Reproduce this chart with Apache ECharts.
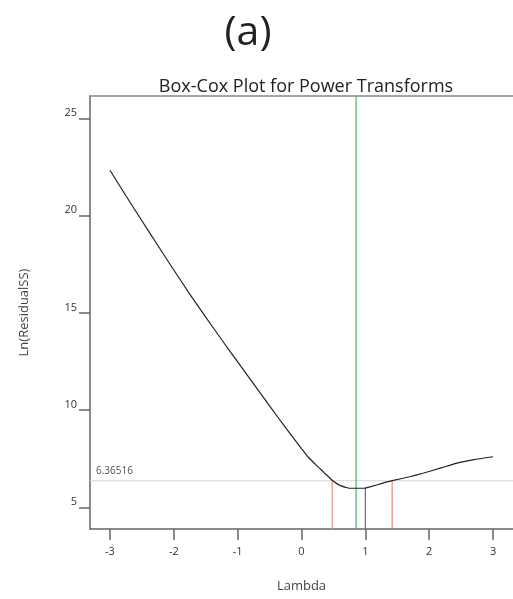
<!DOCTYPE html>
<html><head><meta charset="utf-8">
<script src="https://cdn.jsdelivr.net/npm/echarts@6/dist/echarts.min.js"></script>
<style>html,body{margin:0;padding:0;background:#fff}#c{width:513px;height:599px}</style>
</head><body><div id="c"></div>
<script>
// Data
const lambdaVals = [-3, -2.75, -2.5, -2.25, -2, -1.75, -1.5, -1.25, -1, -0.75, -0.5, -0.25, 0, 0.1, 0.23, 0.35, 0.48, 0.6, 0.7, 0.75, 0.98, 1.1, 1.25, 1.42, 1.69, 1.9, 2.2, 2.42, 2.7, 3.0];
const lnResidualSS = [22.34, 21.03, 19.74, 18.47, 17.21, 15.97, 14.78, 13.62, 12.48, 11.35, 10.22, 9.1, 8.02, 7.6, 7.17, 6.8, 6.39, 6.13, 6.02, 5.98, 5.98, 6.08, 6.22, 6.37, 6.57, 6.75, 7.04, 7.26, 7.45, 7.6];
const xTicks = [-3, -2, -1, 0, 1, 2, 3];
const yTicks = [5, 10, 15, 20, 25];
const refValue = 6.36516;
const lambdaBest = 0.855;
const lambdaCurrent = 1;
const minValue = 5.98;
const ciLow = 0.48;
const ciHigh = 1.42;
const xMin = -3.3125, xMax = 3.3125;
const yMin = 3.884, yMax = 26.16;

const FONT = '"Open Sans", "Noto Sans", sans-serif';
const chart = echarts.init(document.getElementById('c'), null, {renderer: 'canvas'});
const vline = (x, y0, y1, color) => ({
  type: 'line', data: [[x, y0], [x, y1]], symbol: 'none', silent: true,
  lineStyle: {color: color, width: 1.2}, z: 3
});
chart.setOption({
  animation: false,
  textStyle: {fontFamily: FONT},
  title: [
    {text: '(a)', left: 243, top: 8, textAlign: 'center',
     textStyle: {fontSize: 41, fontWeight: 'normal', color: '#222', fontFamily: FONT}},
    {text: 'Box-Cox Plot for Power Transforms', left: 301, top: 73, textAlign: 'center',
     textStyle: {fontSize: 18, fontWeight: 'normal', color: '#222', fontFamily: FONT}}
  ],
  grid: {left: 90, top: 96, width: 424, height: 433, containLabel: false},
  xAxis: [{
    type: 'value', min: xMin, max: xMax, position: 'bottom',
    name: 'Lambda', nameLocation: 'middle', nameGap: 51,
    nameTextStyle: {fontSize: 13, color: '#444', fontFamily: FONT},
    axisLine: {show: true, onZero: false, lineStyle: {color: '#666', width: 1.5}},
    axisTick: {show: true, length: 11, customValues: xTicks, lineStyle: {color: '#666', width: 1.5}},
    axisLabel: {customValues: xTicks, margin: 17, fontSize: 11, color: '#333', fontFamily: FONT},
    splitLine: {show: false}
  }, {
    type: 'value', min: xMin, max: xMax, position: 'top',
    axisLine: {show: true, onZero: false, lineStyle: {color: '#888', width: 1.5}},
    axisTick: {show: false}, axisLabel: {show: false}, splitLine: {show: false}
  }],
  yAxis: {
    type: 'value', min: yMin, max: yMax,
    name: 'Ln(ResidualSS)', nameLocation: 'middle', nameGap: 59,
    nameTextStyle: {fontSize: 13, color: '#444', fontFamily: FONT},
    axisLine: {show: true, onZero: false, lineStyle: {color: '#666', width: 1.5}},
    axisTick: {show: true, length: 11, customValues: yTicks, lineStyle: {color: '#666', width: 1.5}},
    axisLabel: {customValues: yTicks, margin: 13, fontSize: 11, color: '#333', verticalAlign: 'bottom', fontFamily: FONT},
    splitLine: {show: false}
  },
  series: [
    {type: 'line', data: [[xMin, refValue], [xMax, refValue]], symbol: 'none', silent: true,
     lineStyle: {color: '#d6d6d6', width: 1.2}, z: 1},
    {type: 'scatter', data: [[xMin, refValue]], symbol: 'circle', symbolSize: 0, silent: true, z: 5,
     label: {show: true, formatter: String(refValue), position: 'insideBottomLeft', offset: [1, 0],
       align: 'left', verticalAlign: 'bottom', fontSize: 10, color: '#222', fontFamily: FONT}},
    vline(lambdaBest, yMin, yMax, '#4caf65'),
    vline(lambdaCurrent, yMin, minValue, '#5566b8'),
    vline(ciLow, yMin, refValue, '#f08a8a'),
    vline(ciHigh, yMin, refValue, '#f08a8a'),
    {type: 'line', data: lambdaVals.map((l, i) => [l, lnResidualSS[i]]), symbol: 'none', smooth: 0.15,
     lineStyle: {color: '#222', width: 1.2}, z: 4, silent: true}
  ]
});
</script></body></html>
